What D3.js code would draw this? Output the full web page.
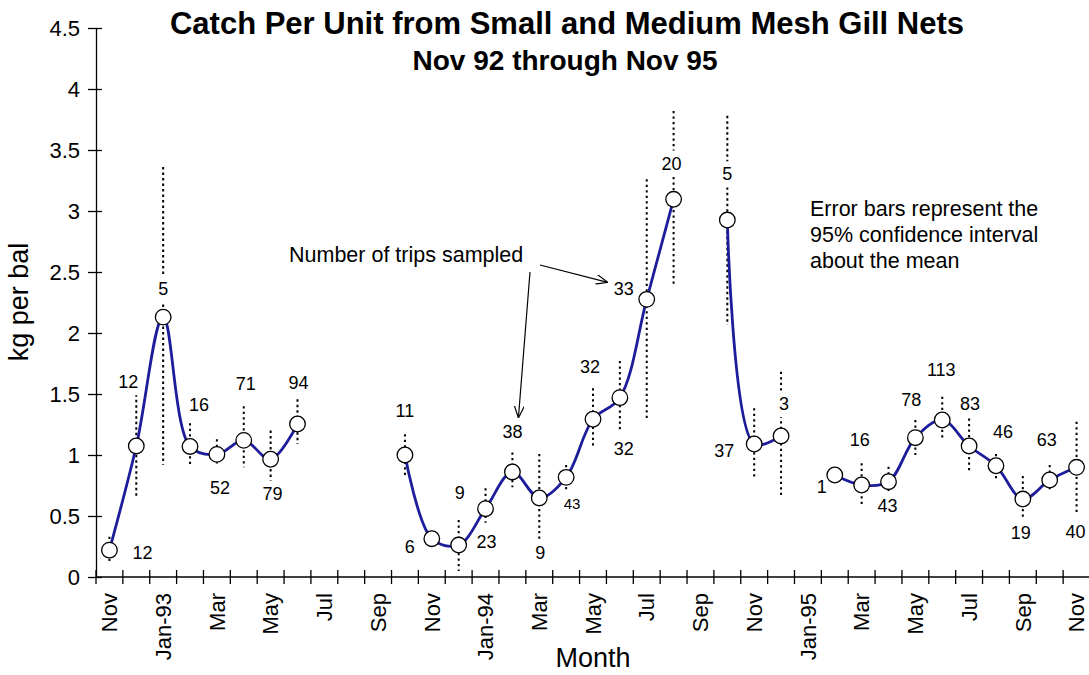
<!DOCTYPE html>
<html>
<head>
<meta charset="utf-8">
<script src="https://cdn.jsdelivr.net/npm/d3@7"></script>
<style>
  body { margin: 0; background: #fff; }
  text { font-family: Arial, "Liberation Sans", sans-serif; fill: #000; }
</style>
</head>
<body>
<div id="chart"></div>
<script>
// months Nov 92 .. Nov 95
var months = ["Nov-92","Dec-92","Jan-93","Feb-93","Mar-93","Apr-93","May-93","Jun-93","Jul-93","Aug-93","Sep-93","Oct-93",
  "Nov-93","Dec-93","Jan-94","Feb-94","Mar-94","Apr-94","May-94","Jun-94","Jul-94","Aug-94","Sep-94","Oct-94",
  "Nov-94","Dec-94","Jan-95","Feb-95","Mar-95","Apr-95","May-95","Jun-95","Jul-95","Aug-95","Sep-95","Oct-95","Nov-95"];

// tick labels, every second month
var xTickLabels = ["Nov","","Jan-93","","Mar","","May","","Jul","","Sep","",
  "Nov","","Jan-94","","Mar","","May","","Jul","","Sep","",
  "Nov","","Jan-95","","Mar","","May","","Jul","","Sep","","Nov"];

// mean kg per bal
var cpue = [0.22,1.074,2.13,1.07,1.005,1.12,0.965,1.254,null,null,null,1.0,
  0.314,0.262,0.56,0.861,0.648,0.817,1.293,1.47,2.276,3.096,null,2.926,
  1.09,1.156,null,0.836,0.754,0.781,1.142,1.287,1.074,0.912,0.639,0.795,0.899];

// 95% confidence interval
var ciUpper = [0.33,1.497,3.36,1.26,1.13,1.40,1.20,1.456,null,null,null,1.17,
  null,0.467,0.727,1.02,1.008,0.918,1.547,1.77,3.26,3.82,null,3.78,
  1.383,1.683,null,null,0.932,0.904,1.287,1.478,1.30,1.008,0.828,0.918,1.273];
var ciLower = [0.115,0.66,0.92,0.90,0.91,0.90,0.77,1.09,null,null,null,0.82,
  null,0.05,0.445,0.735,0.31,0.707,1.055,1.205,1.30,2.38,null,2.066,
  0.817,0.653,null,null,0.576,0.70,1.0,1.128,0.863,0.81,0.467,0.70,0.522];

// number of trips sampled
var trips = [12,12,5,16,52,71,79,94,null,null,null,11,
  6,9,23,38,9,43,32,32,33,20,null,5,
  37,3,null,1,16,43,78,113,83,46,19,63,40];

var yTicks = [0,0.5,1,1.5,2,2.5,3,3.5,4,4.5];

// where each trip count sits relative to its point [dx, dy]
var labelOffset = [[33,3],[-8,-64],[0,-28],[9,-42],[3,33],[2,-57],[2,34],[1,-41],null,null,null,[0,-44],
  [-22,8],[1,-52],[1,33],[0,-40],[1,55],[6,26],[-3,-53],[4,51],[-23,-11],[-2,-36],null,[0,-46],
  [-30,7],[3,-32],null,[-13,12],[-2,-45],[-1,24],[-4,-38],[-1,-50],[1,-42],[7,-34],[-2,34],[-3,-40],[-1,64]];

var width = 1089, height = 675;
var margin = {left: 96, right: 1090, top: 28, bottom: 577};

var svg = d3.select("#chart").append("svg")
  .attr("width", width)
  .attr("height", height);

var x = d3.scaleBand().domain(months).range([margin.left, margin.right]).padding(0);
var y = d3.scaleLinear().domain([0, 4.5]).range([margin.bottom, margin.top]);
var bw = x.bandwidth();
var cx = function(i) { return x(months[i]) + bw / 2; };

// titles
svg.append("text").attr("x", 567).attr("y", 34).attr("text-anchor", "middle")
  .style("font-size", "31px").style("font-weight", "bold")
  .text("Catch Per Unit from Small and Medium Mesh Gill Nets");
svg.append("text").attr("x", 565).attr("y", 70).attr("text-anchor", "middle")
  .style("font-size", "28px").style("font-weight", "bold")
  .text("Nov 92 through Nov 95");

// y axis
var yAxis = svg.append("g")
  .attr("transform", "translate(" + margin.left + ",0)")
  .call(d3.axisLeft(y).tickValues(yTicks).tickSize(8).tickSizeOuter(0).tickFormat(d3.format("~g")));
yAxis.select(".domain").attr("stroke", "#000").attr("stroke-width", 1.3);
yAxis.selectAll(".tick line").attr("x2", -8).attr("x1", 6).attr("stroke", "#000").attr("stroke-width", 1.3);
yAxis.selectAll(".tick text").attr("x", -16).style("font-size", "22px")
  .style("font-family", "Arial, 'Liberation Sans', sans-serif");

// x axis
var xAxis = svg.append("g").attr("transform", "translate(0," + margin.bottom + ")");
xAxis.append("line").attr("x1", margin.left).attr("x2", margin.right).attr("stroke", "#000").attr("stroke-width", 1.3);
var bounds = months.map(function(m) { return x(m); }).concat([margin.right]);
xAxis.selectAll("line.tk").data(bounds).enter().append("line").attr("class", "tk")
  .attr("x1", function(d) { return d; }).attr("x2", function(d) { return d; })
  .attr("y1", -7).attr("y2", 7).attr("stroke", "#000").attr("stroke-width", 1.3);
xAxis.selectAll("text").data(months).enter().append("text")
  .attr("transform", function(d, i) { return "translate(" + cx(i) + ",16) rotate(-90)"; })
  .attr("text-anchor", "end").attr("dy", "0.35em")
  .style("font-size", "22px")
  .text(function(d, i) { return xTickLabels[i]; });

// axis titles
svg.append("text").attr("transform", "translate(28,302) rotate(-90)").attr("text-anchor", "middle")
  .style("font-size", "27px").text("kg per bal");
svg.append("text").attr("x", 593).attr("y", 667).attr("text-anchor", "middle")
  .style("font-size", "27px").text("Month");

var idx = d3.range(months.length);

// error bars
svg.append("g").selectAll("line").data(idx.filter(function(i) { return ciUpper[i] != null; }))
  .enter().append("line")
  .attr("x1", cx).attr("x2", cx)
  .attr("y1", function(i) { return y(ciUpper[i]); })
  .attr("y2", function(i) { return y(ciLower[i]); })
  .attr("stroke", "#000").attr("stroke-width", 2)
  .attr("stroke-dasharray", "2.3,3.2");

// trip counts (white box hides the dotted bar behind them)
var labels = svg.append("g").selectAll("g").data(idx.filter(function(i) { return trips[i] != null; }))
  .enter().append("g");
labels.append("text")
  .attr("x", function(i) { return cx(i) + labelOffset[i][0]; })
  .attr("y", function(i) { return y(cpue[i]) + labelOffset[i][1]; })
  .attr("text-anchor", "middle").attr("dy", "0.35em")
  .style("font-size", function(i) { return i === 17 ? "15px" : "18px"; })
  .text(function(i) { return trips[i]; });
labels.each(function() {
  var g = d3.select(this);
  var b = g.select("text").node().getBBox();
  g.insert("rect", "text")
    .attr("x", b.x - 2).attr("y", b.y - 3)
    .attr("width", b.width + 4).attr("height", b.height + 6)
    .attr("fill", "#fff");
});

// the line
var line = d3.line()
  .defined(function(i) { return cpue[i] != null; })
  .x(cx)
  .y(function(i) { return y(cpue[i]); })
  .curve(d3.curveCatmullRom.alpha(0.5));
svg.append("path").datum(idx)
  .attr("fill", "none").attr("stroke", "#1d1d9b").attr("stroke-width", 2.8)
  .attr("d", line);

// points
svg.append("g").selectAll("circle").data(idx.filter(function(i) { return cpue[i] != null; }))
  .enter().append("circle")
  .attr("cx", cx).attr("cy", function(i) { return y(cpue[i]); })
  .attr("r", 7.8).attr("fill", "#fff").attr("stroke", "#000").attr("stroke-width", 1.3);

// annotation
svg.append("defs").append("marker").attr("id", "arr")
  .attr("viewBox", "0 0 12 10").attr("refX", 12).attr("refY", 5)
  .attr("markerWidth", 12).attr("markerHeight", 10).attr("markerUnits", "userSpaceOnUse")
  .attr("orient", "auto")
  .append("path").attr("d", "M0,0 L12,5 L0,10").attr("fill", "none").attr("stroke", "#000").attr("stroke-width", 1.2);

svg.append("text").attr("x", 289).attr("y", 262).style("font-size", "21.5px").text("Number of trips sampled");
var t1 = [cx(15) + labelOffset[15][0] + 6, y(cpue[15]) + labelOffset[15][1] - 14];
var t2 = [cx(20) + labelOffset[20][0] - 16, y(cpue[20]) + labelOffset[20][1] - 6];
svg.append("line").attr("x1", 530).attr("y1", 272).attr("x2", t1[0]).attr("y2", t1[1])
  .attr("stroke", "#000").attr("stroke-width", 1.2).attr("marker-end", "url(#arr)");
svg.append("line").attr("x1", 540).attr("y1", 265).attr("x2", t2[0]).attr("y2", t2[1])
  .attr("stroke", "#000").attr("stroke-width", 1.2).attr("marker-end", "url(#arr)");

var note = svg.append("text").attr("x", 810).attr("y", 216).style("font-size", "21.5px");
["Error bars represent the", "95% confidence interval", "about the mean"].forEach(function(s, k) {
  note.append("tspan").attr("x", 810).attr("dy", k === 0 ? 0 : 26).text(s);
});
</script>
</body>
</html>
